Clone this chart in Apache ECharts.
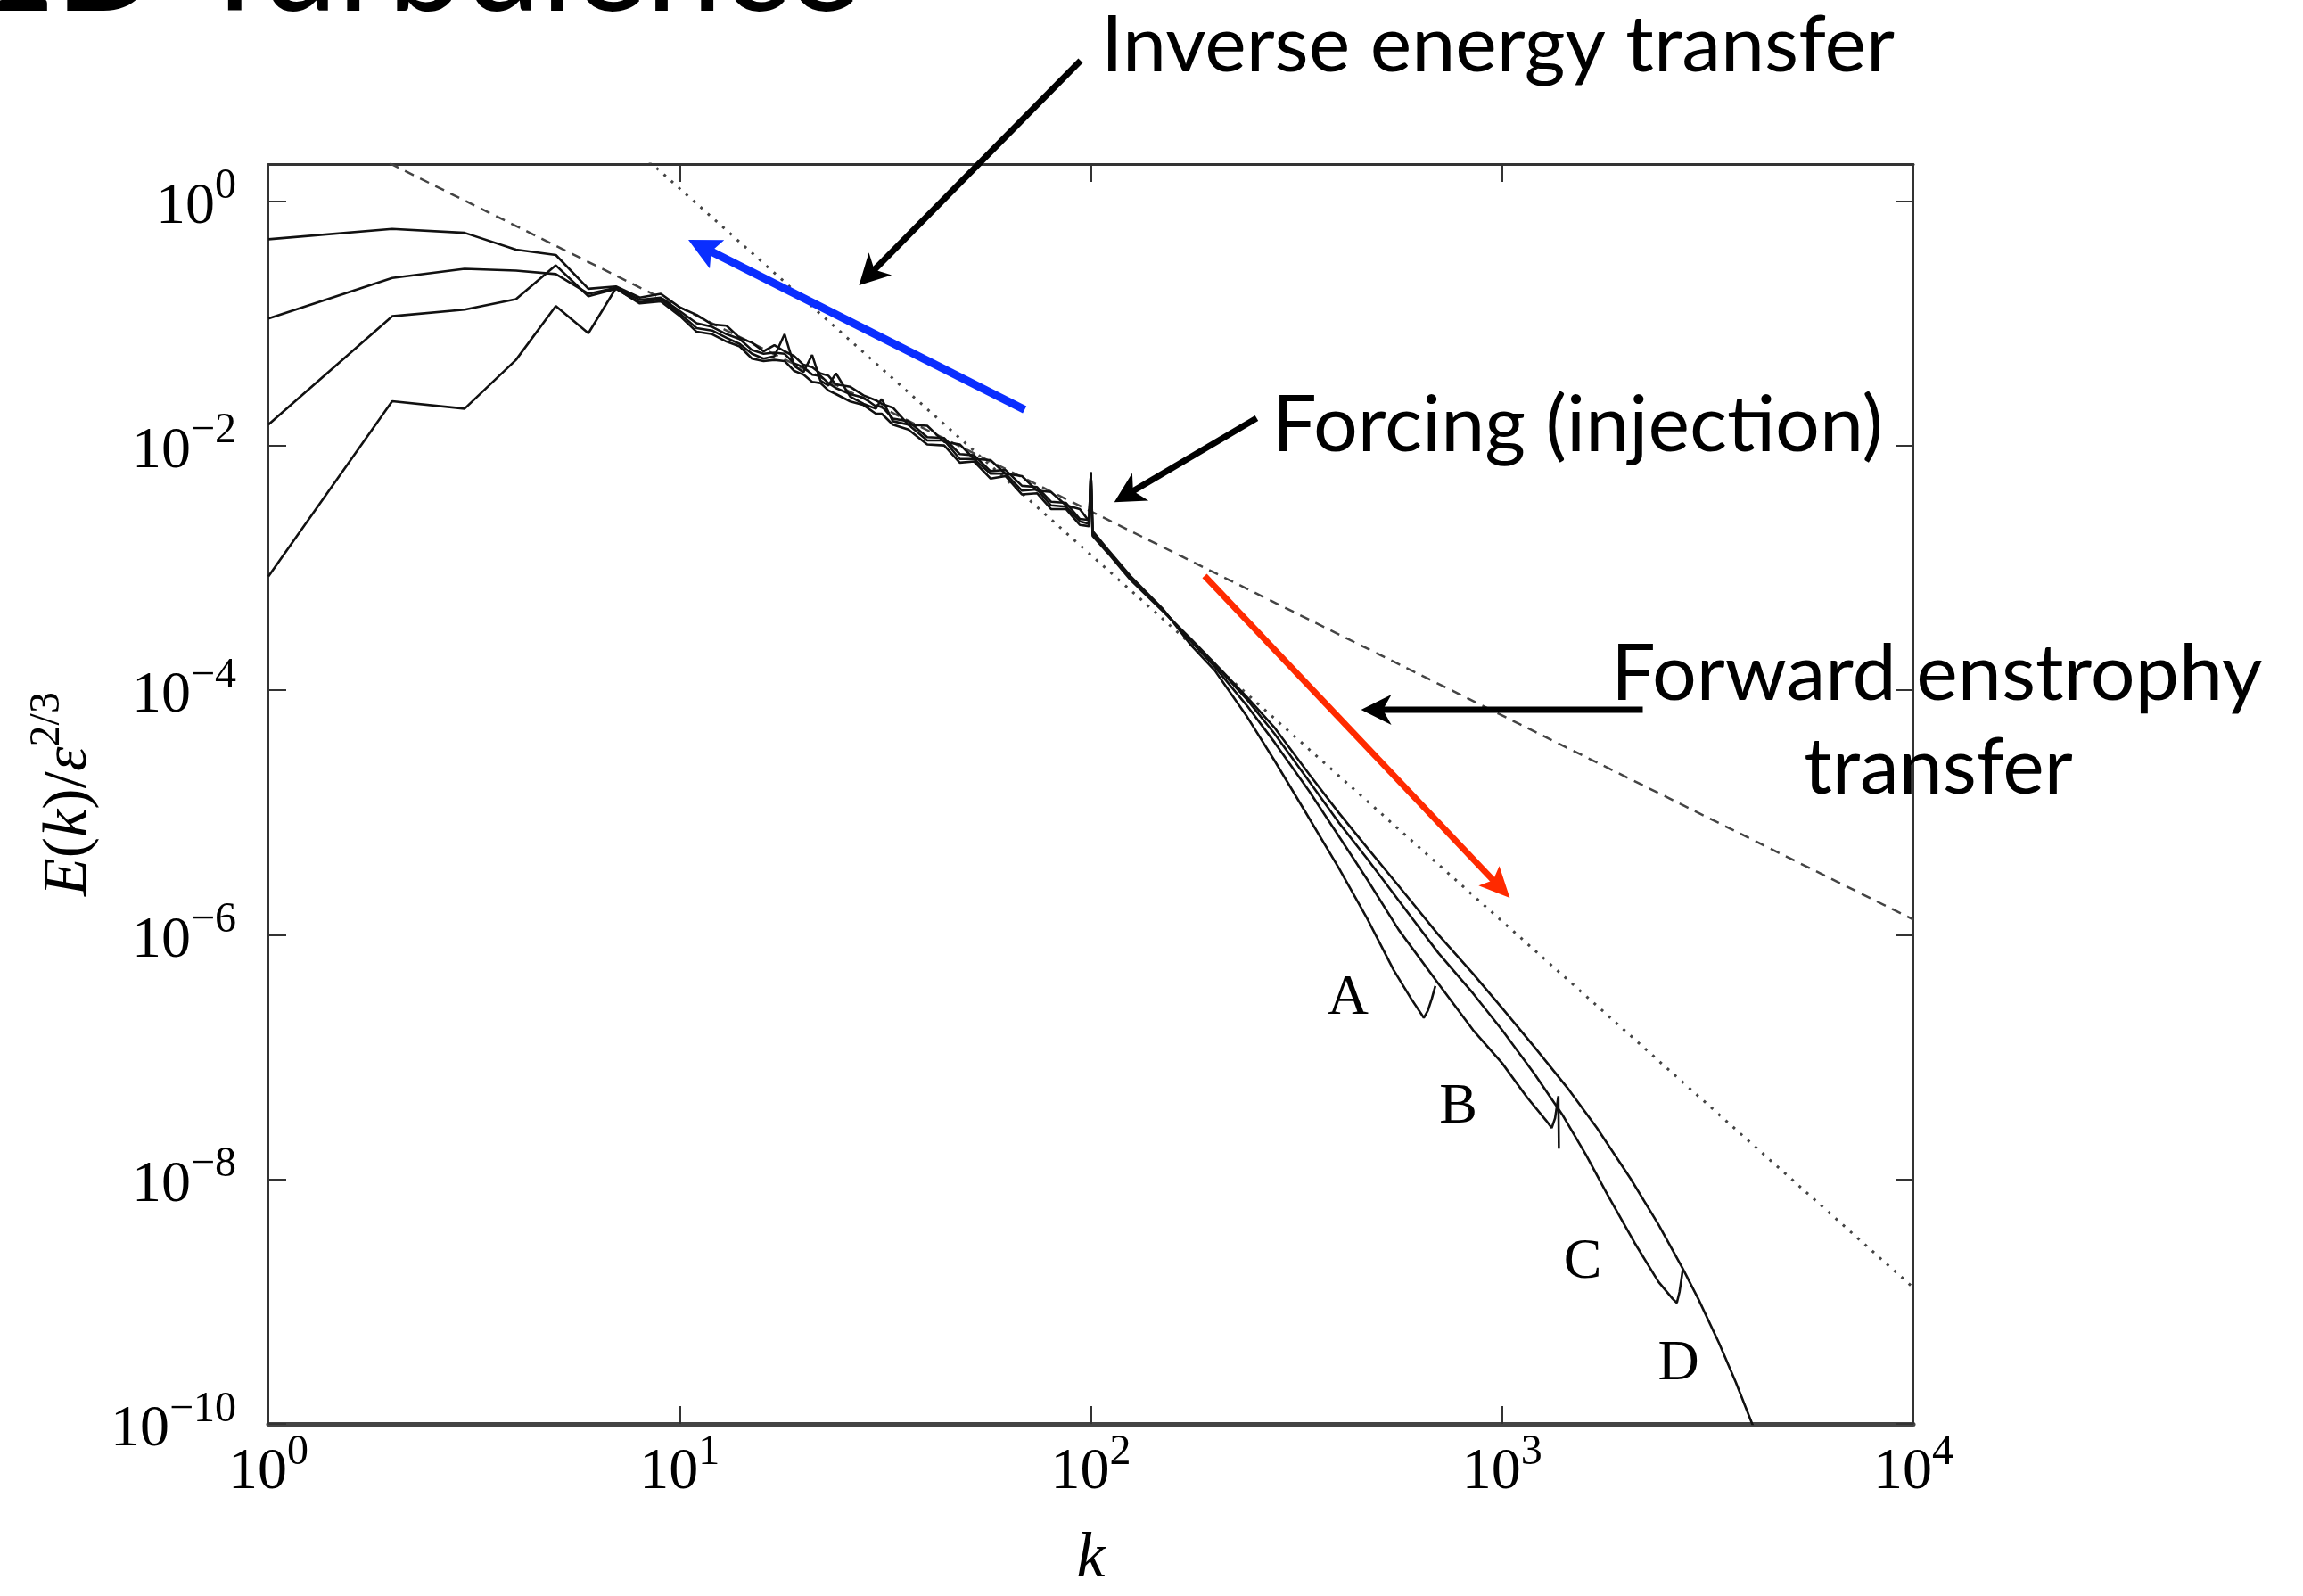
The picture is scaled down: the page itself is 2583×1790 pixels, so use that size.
<!DOCTYPE html>
<html>
<head>
<meta charset="utf-8">
<title>2D Turbulence – energy spectra</title>
<script src="https://cdn.jsdelivr.net/npm/echarts@6/dist/echarts.min.js"></script>
<style>
  html, body { margin: 0; padding: 0; background: #fff; }
  #chart { width: 2583px; height: 1790px; }
</style>
</head>
<body>
<div id="chart"></div>
<script>
// ---- Energy spectra E(k)/eps^(2/3) for runs A–D, as [k, E] pairs ----
const specA = [[1,4.85e-1],[2,5.90e-1],[3,5.48e-1],[4,3.99e-1],[5,3.61e-1],[6,1.91e-1],[7,2.00e-1],[8,1.62e-1],[9,1.74e-1],[10,1.35e-1],
  [11,1.17e-1],[12,9.77e-2],[13,9.55e-2],[14,7.59e-2],[15,6.92e-2],[16,5.89e-2],[17,6.61e-2],[18,5.89e-2],[19,5.37e-2],[20,4.57e-2],
  [21,4.37e-2],[22,3.89e-2],[23,3.72e-2],[24,3.16e-2],[26,3.02e-2],[28,2.57e-2],[30,2.34e-2],[31,2.19e-2],[33,2.04e-2],[36,1.48e-2],
  [40,1.45e-2],[44,1.07e-2],[48,1.02e-2],[52,7.76e-3],[57,7.59e-3],[62,5.89e-3],[68,5.62e-3],[74,4.27e-3],[80,4.17e-3],[87,3.24e-3],
  [94,3.02e-3],[99,2.40e-3],[100,6.03e-3],[101,2.00e-3],[110,1.41e-3],[125,8.51e-4],[150,4.57e-4],[175,2.34e-4],[200,1.45e-4],[240,6.03e-5],
  [280,2.63e-5],[330,1.05e-5],[400,3.55e-6],[470,1.35e-6],[545,5.13e-7],[600,3.02e-7],[645,2.09e-7],[660,2.40e-7],[675,3.02e-7],[688,3.80e-7]];

const specB = [[1,1.09e-1],[2,2.34e-1],[3,2.78e-1],[4,2.69e-1],[5,2.52e-1],[6,1.74e-1],[7,1.95e-1],[8,1.55e-1],[9,1.62e-1],[10,1.26e-1],
  [11,1.00e-1],[12,9.33e-2],[13,8.13e-2],[14,7.41e-2],[15,6.03e-2],[16,5.62e-2],[17,5.75e-2],[18,5.62e-2],[19,4.68e-2],[20,4.37e-2],
  [21,3.80e-2],[22,3.72e-2],[23,3.24e-2],[24,2.95e-2],[26,2.63e-2],[28,2.46e-2],[30,2.09e-2],[31,2.09e-2],[33,1.66e-2],[36,1.58e-2],
  [40,1.17e-2],[44,1.15e-2],[48,8.51e-3],[52,8.32e-3],[57,6.17e-3],[62,6.31e-3],[68,4.68e-3],[74,4.57e-3],[80,3.47e-3],[87,3.39e-3],
  [94,2.51e-3],[99,2.46e-3],[100,6.03e-3],[101,1.91e-3],[110,1.38e-3],[125,8.32e-4],[150,4.47e-4],[175,2.51e-4],[200,1.55e-4],[240,7.41e-5],
  [280,3.72e-5],[340,1.48e-5],[400,6.46e-6],[470,2.82e-6],[560,1.10e-6],[700,3.98e-7],[850,1.66e-7],[1000,8.91e-8],[1150,4.68e-8],[1280,3.02e-8],
  [1320,2.63e-8],[1345,3.16e-8],[1370,4.79e-8],[1374,1.78e-8]];

const specC = [[1,1.48e-2],[2,1.14e-1],[3,1.29e-1],[4,1.57e-1],[5,2.97e-1],[6,1.66e-1],[7,1.91e-1],[8,1.48e-1],[9,1.58e-1],[10,1.20e-1],
  [11,9.12e-2],[12,8.71e-2],[13,7.59e-2],[14,6.76e-2],[15,5.62e-2],[16,5.13e-2],[17,5.37e-2],[18,8.13e-2],[19,4.47e-2],[20,3.98e-2],
  [21,5.50e-2],[22,3.39e-2],[23,3.09e-2],[24,3.89e-2],[26,2.51e-2],[28,2.19e-2],[30,2.00e-2],[31,2.40e-2],[33,1.58e-2],[36,1.48e-2],
  [40,1.10e-2],[44,1.10e-2],[48,7.76e-3],[52,7.76e-3],[57,5.89e-3],[62,5.89e-3],[68,4.27e-3],[74,4.37e-3],[80,3.24e-3],[87,3.16e-3],
  [94,2.40e-3],[99,2.29e-3],[100,6.03e-3],[101,1.86e-3],[110,1.35e-3],[125,8.13e-4],[150,4.47e-4],[175,2.57e-4],[200,1.62e-4],[240,8.32e-5],
  [280,4.37e-5],[340,1.78e-5],[400,8.32e-6],[470,4.17e-6],[560,1.91e-6],[700,7.08e-7],[850,3.31e-7],[1000,1.66e-7],[1200,7.24e-8],[1400,3.39e-8],
  [1600,1.58e-8],[1800,7.59e-9],[2100,3.02e-9],[2400,1.45e-9],[2600,1.05e-9],[2660,9.77e-10],[2700,1.20e-9],[2750,1.82e-9]];

const specD = [[1,8.51e-4],[2,2.30e-2],[3,2.00e-2],[4,5.01e-2],[5,1.38e-1],[6,8.28e-2],[7,1.93e-1],[8,1.45e-1],[9,1.51e-1],[10,1.15e-1],
  [11,8.51e-2],[12,8.13e-2],[13,7.08e-2],[14,6.46e-2],[15,5.13e-2],[16,4.90e-2],[17,5.01e-2],[18,4.90e-2],[19,4.07e-2],[20,3.80e-2],
  [21,3.31e-2],[22,3.24e-2],[23,2.82e-2],[24,2.63e-2],[26,2.29e-2],[28,2.14e-2],[30,1.82e-2],[31,1.82e-2],[33,1.48e-2],[36,1.35e-2],
  [40,1.02e-2],[44,1.00e-2],[48,7.24e-3],[52,7.41e-3],[57,5.37e-3],[62,5.62e-3],[68,3.98e-3],[74,4.07e-3],[80,3.02e-3],[87,3.02e-3],
  [94,2.24e-3],[99,2.19e-3],[100,6.03e-3],[101,1.82e-3],[110,1.32e-3],[125,7.94e-4],[150,4.37e-4],[175,2.63e-4],[200,1.66e-4],[240,8.71e-5],
  [280,4.90e-5],[340,2.04e-5],[400,1.00e-5],[470,5.13e-6],[560,2.51e-6],[700,1.00e-6],[850,4.79e-7],[1000,2.51e-7],[1200,1.20e-7],[1440,5.62e-8],
  [1700,2.63e-8],[2050,1.02e-8],[2400,4.27e-9],[2750,1.86e-9],[3000,1.05e-9],[3370,4.57e-10],[3700,2.19e-10],[4100,9.12e-11]];

// Reference power laws (end points): k^-5/3 dashed, k^-3 dotted
const slopeEnergy    = [[1, 6.3], [10000, 1.33e-6]];
const slopeEnstrophy = [[1, 1250], [10000, 1.3e-9]];

// Axis ranges and tick exponents
const kRange = [1, 1e4];
const eRange = [1e-10, 2];
const yTickExponents = [-10, -8, -6, -4, -2, 0];

// Run labels, placed at [k, E]
const runLabels = [['A', [422, 2.99e-7]], ['B', [782, 3.83e-8]], ['C', [1570, 2.09e-9]], ['D', [2685, 3.08e-10]]];

// Annotation arrows: [from [k, E], to [k, E]]
const arrowInverse  = [[94.4, 14.0], [27.3, 0.204]];
const arrowBlue     = [[69.0, 0.0196], [10.5, 0.48]];
const arrowForcing  = [[253, 0.0167], [114, 3.44e-3]];
const arrowRed      = [[189, 8.6e-4], [1044, 2.0e-6]];
const arrowForward  = [[2198, 6.9e-5], [454, 6.9e-5]];

const SERIF = '"Liberation Serif", "Times New Roman", serif';
const SANS = 'Lato, "Open Sans", sans-serif';

function powLabel(exp) {
  const s = exp < 0 ? '\u2212' + (-exp) : String(exp);
  return '{b|10}{s|' + s + '}';
}
const tickRich = {
  b: { fontFamily: SERIF, fontSize: 66, lineHeight: 80, color: '#000', verticalAlign: 'bottom' },
  s: { fontFamily: SERIF, fontSize: 48, lineHeight: 40, color: '#000', verticalAlign: 'top' }
};

const frameColor = '#333';
const tickStyle = { show: true, inside: true, length: 20, lineStyle: { color: frameColor, width: 2 } };

const chart = echarts.init(document.getElementById('chart'));

const curveStyle = { color: '#111', width: 2.6 };
function spectrum(name, data) {
  return { type: 'line', name, data, symbol: 'none', xAxisIndex: 0, yAxisIndex: 0,
           lineStyle: curveStyle, clip: true, z: 3, silent: true };
}

const option = {
  animation: false,
  backgroundColor: '#fff',
  grid: { left: 301, right: 437, top: 184, bottom: 183, containLabel: false },
  xAxis: [
    { type: 'log', logBase: 10, min: kRange[0], max: kRange[1], position: 'bottom',
      axisLine: { show: true, onZero: false, lineStyle: { color: '#444', width: 5 } },
      axisTick: tickStyle, splitLine: { show: false }, minorTick: { show: false },
      axisLabel: { margin: 8, formatter: v => powLabel(Math.round(Math.log10(v))), rich: tickRich },
      name: 'k', nameLocation: 'middle', nameGap: 116,
      nameTextStyle: { fontFamily: SERIF, fontStyle: 'italic', fontSize: 72, color: '#000' } },
    { type: 'log', logBase: 10, min: kRange[0], max: kRange[1], position: 'top',
      axisLine: { show: true, onZero: false, lineStyle: { color: frameColor, width: 3 } },
      axisTick: tickStyle, axisLabel: { show: false }, splitLine: { show: false } }
  ],
  yAxis: [
    { type: 'log', logBase: 10, min: eRange[0], max: eRange[1], position: 'left',
      axisLine: { show: true, onZero: false, lineStyle: { color: frameColor, width: 2 } },
      axisTick: { show: false }, axisLabel: { show: false }, splitLine: { show: false } },
    { type: 'value', min: yTickExponents[0], max: Math.log10(eRange[1]), interval: 2, position: 'left',
      axisLine: { show: false, onZero: false }, axisTick: tickStyle, splitLine: { show: false },
      axisLabel: { margin: 36, formatter: v => (yTickExponents.includes(v) ? powLabel(v) : ''), rich: tickRich },
      name: '{i|E}{n|(}{i|k}{n|)/}{i|\u03b5}{s|2/3}', nameLocation: 'middle', nameRotate: 90, nameGap: 184,
      nameTextStyle: { rich: {
        i: { fontFamily: SERIF, fontStyle: 'italic', fontSize: 70, lineHeight: 84, color: '#000', verticalAlign: 'bottom' },
        n: { fontFamily: SERIF, fontSize: 70, lineHeight: 84, color: '#000', verticalAlign: 'bottom' },
        s: { fontFamily: SERIF, fontSize: 48, lineHeight: 44, color: '#000', verticalAlign: 'top' }
      } } },
    { type: 'value', min: yTickExponents[0], max: Math.log10(eRange[1]), interval: 2, position: 'right',
      axisLine: { show: true, onZero: false, lineStyle: { color: frameColor, width: 2 } },
      axisTick: tickStyle, axisLabel: { show: false }, splitLine: { show: false } }
  ],
  series: [
    spectrum('A', specA), spectrum('B', specB), spectrum('C', specC), spectrum('D', specD),
    { type: 'line', name: 'k^-5/3', data: slopeEnergy, symbol: 'none', xAxisIndex: 0, yAxisIndex: 0, clip: true, z: 2, silent: true,
      lineStyle: { color: '#444', width: 2.5, type: [11, 8] } },
    { type: 'line', name: 'k^-3', data: slopeEnstrophy, symbol: 'none', xAxisIndex: 0, yAxisIndex: 0, clip: true, z: 2, silent: true,
      lineStyle: { color: '#444', width: 3, type: [3, 8] } }
  ]
};
chart.setOption(option);

// ---- Annotations, positioned through the chart's own coordinate system ----
const toPx = p => chart.convertToPixel({ seriesIndex: 0 }, p);

function arrow(spec, color, width, headLen, headHalf, notch) {
  const [x0, y0] = toPx(spec[0]);
  const [x1, y1] = toPx(spec[1]);
  const dx = x1 - x0, dy = y1 - y0, L = Math.hypot(dx, dy);
  const ux = dx / L, uy = dy / L, nx = -uy, ny = ux;
  const bx = x1 - ux * headLen, by = y1 - uy * headLen;
  const mx = x1 - ux * headLen * notch, my = y1 - uy * headLen * notch;
  return [
    { type: 'line', z: 100, shape: { x1: x0, y1: y0, x2: mx + ux * 3, y2: my + uy * 3 },
      style: { stroke: color, lineWidth: width } },
    { type: 'polygon', z: 101, shape: { points: [[x1, y1], [bx + nx * headHalf, by + ny * headHalf], [mx, my],
      [bx - nx * headHalf, by - ny * headHalf]] }, style: { fill: color } }
  ];
}

function text(str, x, y, size, align, font) {
  return { type: 'text', z: 102, x, y,
    style: { text: str, fontFamily: font || SANS, fontSize: size, fill: '#000', align: align || 'left', verticalAlign: 'middle' } };
}

const elements = [].concat(
  arrow(arrowInverse, '#000', 7, 34, 18, 0.72),
  arrow(arrowBlue, '#0a2eff', 9, 36, 18, 0.8),
  arrow(arrowForcing, '#000', 7, 34, 18, 0.72),
  arrow(arrowRed, '#ff2a00', 7, 34, 16, 0.8),
  arrow(arrowForward, '#000', 7, 34, 17, 0.72),
  runLabels.map(([s, p]) => { const [x, y] = toPx(p); return text(s, x, y, 64, 'center', SERIF); }),
  [
    text('2D Turbulence', -28, -38, 154, 'left'),
    text('Inverse energy transfer', 1235, 52, 88, 'left'),
    text('Forcing (injection)', 1427, 478, 88, 'left'),
    text('Forward enstrophy', 1807, 757, 88, 'left'),
    text('transfer', 2174, 862, 88, 'center')
  ]
);
chart.setOption({ graphic: { elements } });
</script>
</body>
</html>
